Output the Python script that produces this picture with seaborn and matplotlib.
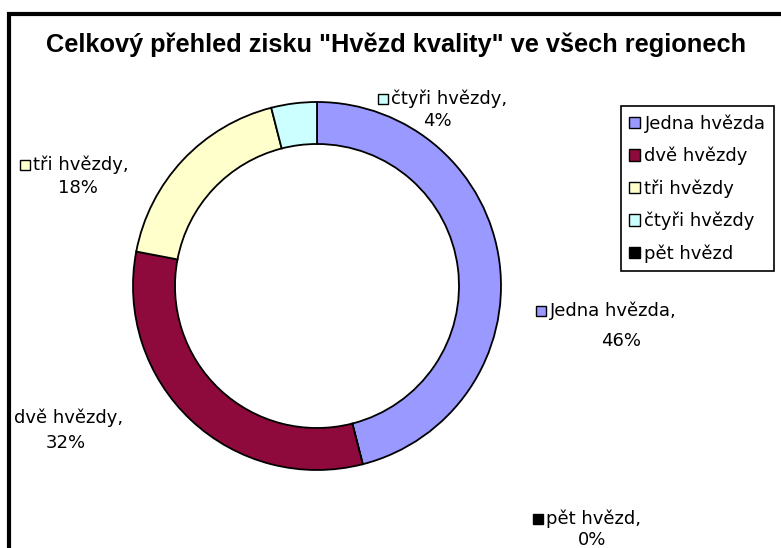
import matplotlib
matplotlib.use("Agg")
import matplotlib.pyplot as plt
import seaborn as sns
from matplotlib.patches import Patch

# data (legend order)
categories = ["Jedna hvězda", "dvě hvězdy", "tři hvězdy", "čtyři hvězdy", "pět hvězd"]
shares = [46, 32, 18, 4, 0]
colors = ["#9999FF", "#8E0A3C", "#FFFFCC", "#CCFFFF", "#000000"]
# order in which Excel drew the slices (clockwise from top)
draw_order = [0, 4, 1, 2, 3]

W, H = 781, 548

sns.set_theme(style="white")
plt.rcParams['font.family'] = ['DejaVu Sans']
plt.rcParams['text.color'] = 'black'

fig = plt.figure(figsize=(W / 100, H / 100), dpi=100)
ax = fig.add_axes([0, 0, 1, 1])

def py(y):
    # pixel row -> data y
    return H - y

vals = [shares[i] for i in draw_order]
cols = [colors[i] for i in draw_order]
ax.pie(vals, colors=cols, startangle=90, counterclock=False,
       center=(317, py(286)), radius=184,
       wedgeprops=dict(width=42, edgecolor="black", linewidth=1.3))

ax.set_xlim(0, W)
ax.set_ylim(0, H)
ax.set_aspect("equal")
ax.axis("off")

# frame of the chart area (only top and left edges visible)
ax.plot([9, 9, W + 5], [py(H + 5), py(14), py(14)], color="black", lw=3,
        solid_joinstyle="miter", clip_on=False)

ax.text(396, py(45), 'Celkový přehled zisku "Hvězd kvality" ve všech regionech',
        ha="center", va="center", fontsize=18.3, fontweight="bold",
        family="Liberation Sans", color="black")

# data labels: (category index, square x, line1 x, line1 y, line2 center x, line2 y, show square)
label_pos = [
    (0, 541, 550, 311, 621, 341, True),
    (1, None, 14, 418, 66, 443, False),
    (2, 25, 33, 165, 78, 188, True),
    (3, 383, 391, 99, 437, 121, True),
    (4, 538, 546, 519, 592, 540, True),
]
lab_fs = 13
for i, sx, tx, ty, cx, cy, sq in label_pos:
    if sq:
        ax.plot(sx, py(ty), marker="s", markersize=7, color=colors[i],
                markeredgecolor="black", markeredgewidth=1, clip_on=False)
    ax.text(tx, py(ty), categories[i] + ",", ha="left", va="center",
            fontsize=lab_fs, color="black")
    ax.text(cx, py(cy), f"{shares[i]}%", ha="center", va="center",
            fontsize=lab_fs, color="black")

handles = [Patch(facecolor=c, edgecolor="black", linewidth=1) for c in colors]
leg = ax.legend(handles, categories, loc="upper left",
                bbox_to_anchor=(621 / W, 1 - 106 / H),
                bbox_transform=fig.transFigure,
                fontsize=13, frameon=True, fancybox=False, framealpha=1,
                edgecolor="black", handlelength=0.6, handleheight=0.6,
                handletextpad=0.25, labelspacing=0.78, borderpad=0.45,
                borderaxespad=0, labelcolor="black")
leg.get_frame().set_linewidth(1.2)

fig.savefig("out.png", dpi=100, facecolor="white")
